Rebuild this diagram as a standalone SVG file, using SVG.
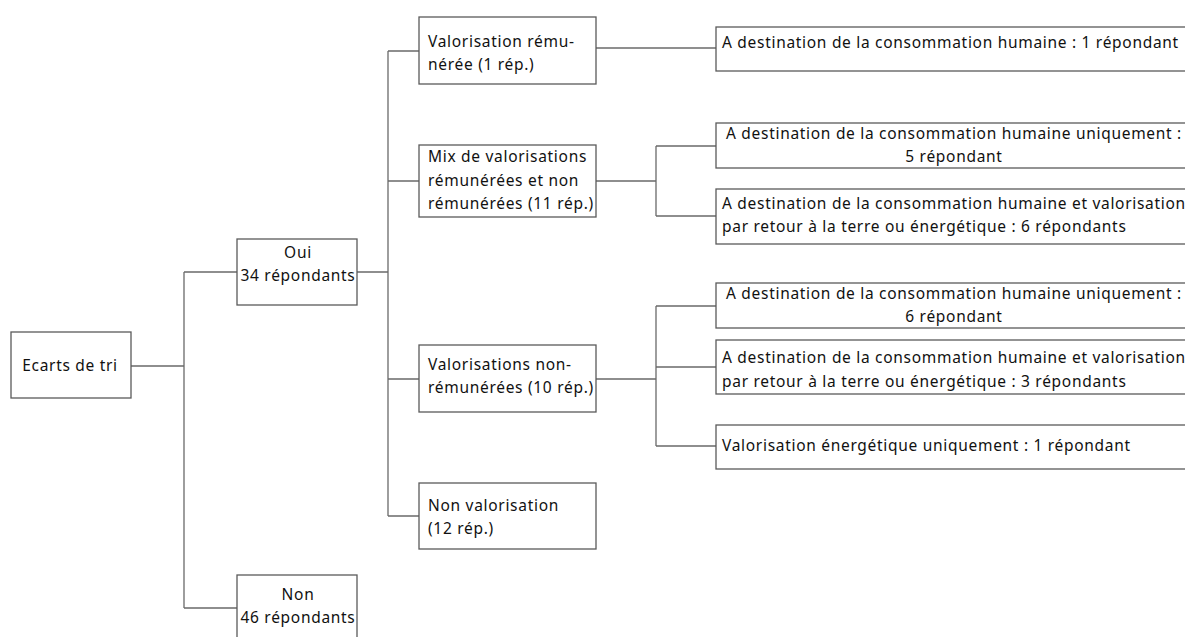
<svg xmlns="http://www.w3.org/2000/svg" width="1185" height="637" viewBox="0 0 1185 637">
<style>
.b{fill:#fff;stroke:#5a5a5a;stroke-width:1.3}
.t{font-family:"Noto Sans","Open Sans",sans-serif;font-size:15.5px;letter-spacing:0.7px;fill:#111}
.c{text-anchor:middle}
.l{fill:none;stroke:#6a6a6a;stroke-width:1.3}
</style>
<rect width="1185" height="637" fill="#fff"/>
<g id="connectors">
<path class="l" d="M131 366H184M184 272V608M184 272H237M184 608H237"/>
<path class="l" d="M357 272H388M388 51V516M388 51H419M388 181H419M388 379H419M388 516H419"/>
<path class="l" d="M596 48H716"/>
<path class="l" d="M596 181H656M656 146V216M656 146H716M656 216H716"/>
<path class="l" d="M596 379H656M656 306V446M656 306H716M656 367H716M656 446H716"/>
</g>
<g id="n_ecarts"><rect class="b" x="11" y="332" width="120" height="66"/><text class="t c" x="70" y="371">Ecarts de tri</text></g>
<g id="n_oui"><rect class="b" x="237" y="239" width="120" height="66"/><text class="t c" x="298" y="258">Oui</text><text class="t c" x="298" y="281">34 répondants</text></g>
<g id="n_non"><rect class="b" x="237" y="575" width="120" height="70"/><text class="t c" x="298" y="600">Non</text><text class="t c" x="298" y="623">46 répondants</text></g>
<g id="n_rem"><rect class="b" x="419" y="17" width="177" height="67"/><text class="t" x="428" y="47">Valorisation rému-</text><text class="t" x="428" y="70">nérée (1 rép.)</text></g>
<g id="n_mix"><rect class="b" x="419" y="145" width="177" height="72"/><text class="t" x="428" y="162">Mix de valorisations</text><text class="t" x="428" y="186">rémunérées et non</text><text class="t" x="428" y="209">rémunérées (11 rép.)</text></g>
<g id="n_nonrem"><rect class="b" x="419" y="345" width="177" height="67"/><text class="t" x="428" y="370">Valorisations non-</text><text class="t" x="428" y="393">rémunérées (10 rép.)</text></g>
<g id="n_nonval"><rect class="b" x="419" y="483" width="177" height="66"/><text class="t" x="428" y="511">Non valorisation</text><text class="t" x="428" y="534">(12 rép.)</text></g>
<g id="n_r1"><rect class="b" x="716" y="27" width="480" height="44"/><text class="t" x="722" y="48">A destination de la consommation humaine : 1 répondant</text></g>
<g id="n_r2"><rect class="b" x="716" y="123" width="480" height="45"/><text class="t c" x="954" y="139">A destination de la consommation humaine uniquement :</text><text class="t c" x="954" y="162">5 répondant</text></g>
<g id="n_r3"><rect class="b" x="716" y="189" width="480" height="55"/><text class="t" x="722" y="209">A destination de la consommation humaine et valorisation</text><text class="t" x="722" y="232">par retour à la terre ou énergétique : 6 répondants</text></g>
<g id="n_r4"><rect class="b" x="716" y="283" width="480" height="45"/><text class="t c" x="954" y="299">A destination de la consommation humaine uniquement :</text><text class="t c" x="954" y="322">6 répondant</text></g>
<g id="n_r5"><rect class="b" x="716" y="340" width="480" height="54"/><text class="t" x="722" y="363">A destination de la consommation humaine et valorisation</text><text class="t" x="722" y="387">par retour à la terre ou énergétique : 3 répondants</text></g>
<g id="n_r6"><rect class="b" x="716" y="425" width="480" height="44"/><text class="t" x="722" y="451">Valorisation énergétique uniquement : 1 répondant</text></g>
</svg>
